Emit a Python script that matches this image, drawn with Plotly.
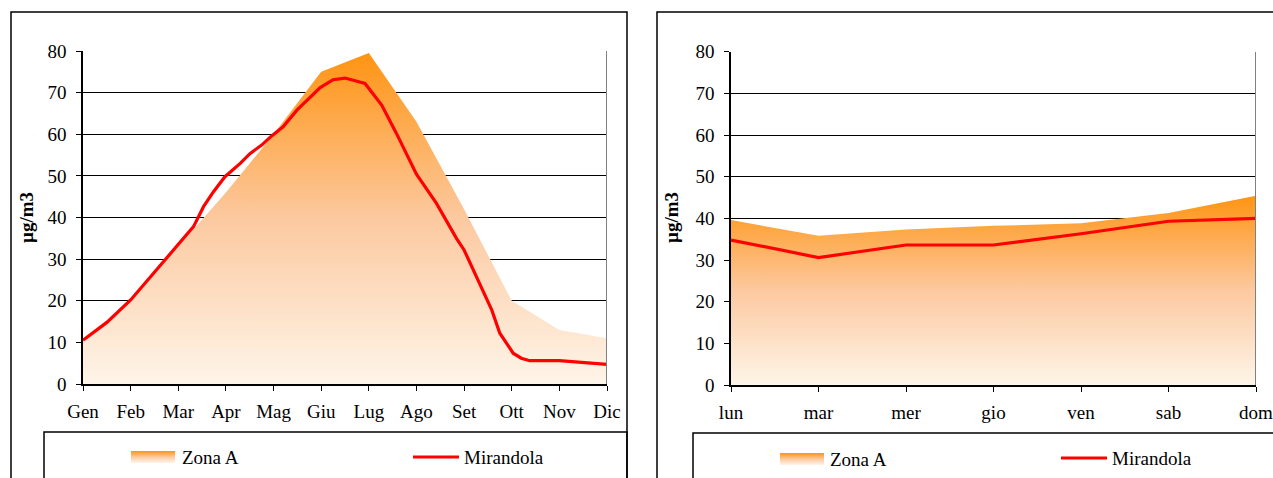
import plotly.graph_objects as go
from plotly.colors import sample_colorscale

# dati mensili
mesi = ["Gen", "Feb", "Mar", "Apr", "Mag", "Giu", "Lug", "Ago", "Set", "Ott", "Nov", "Dic"]
zona_a_mesi = [10, 20, 33, 46, 60, 75, 79.5, 63, 42, 20, 13, 11]
mirandola_mesi_x = [0, 0.5, 1, 1.5, 2.07, 2.32, 2.53, 2.74, 2.98, 3.3, 3.51, 3.75, 3.96,
                    4.2, 4.49, 4.77, 4.98, 5.25, 5.5, 5.92, 6.27, 6.58, 7.0, 7.42, 7.84,
                    8.0, 8.28, 8.58, 8.75, 8.89, 9.03, 9.2, 9.38, 10, 11]
mirandola_mesi = [10.5, 14.8, 20.2, 26.9, 34.6, 37.8, 42.6, 46.2, 49.8, 53.0, 55.4, 57.4, 59.6,
                  61.8, 65.8, 69.0, 71.2, 73.1, 73.5, 72.2, 67.0, 60.2, 50.4, 43.4, 35.0,
                  32.2, 25.4, 17.8, 12.2, 9.8, 7.4, 6.2, 5.6, 5.6, 4.7]

# dati settimanali
giorni = ["lun", "mar", "mer", "gio", "ven", "sab", "dom"]
zona_a_sett = [39.6, 35.8, 37.3, 38.2, 38.8, 41.3, 45.4]
mirandola_sett = [34.8, 30.6, 33.6, 33.6, 36.3, 39.3, 40.0]

W, H = 1273, 478
FONT = "Liberation Serif"
SCALA = [[0, "#FEF5E9"], [0.5, "#FCC9A0"], [1, "#FF9412"]]


def xp(px):
    return px / W


def yp(py):
    return 1 - py / H


fig = go.Figure()

# Zona A mensile (area con gradiente)
fig.add_trace(go.Scatter(
    x=list(range(len(mesi))), y=zona_a_mesi, mode="lines", fill="tozeroy",
    line=dict(width=0, color="#FF9412"),
    fillgradient=dict(type="vertical", colorscale=SCALA, start=0, stop=max(zona_a_mesi)),
    xaxis="x", yaxis="y", showlegend=False, hoverinfo="skip"))
fig.add_trace(go.Scatter(
    x=mirandola_mesi_x, y=mirandola_mesi, mode="lines",
    line=dict(width=3.2, color="#FF0000"), xaxis="x", yaxis="y", showlegend=False))

# Zona A settimanale
fig.add_trace(go.Scatter(
    x=list(range(len(giorni))), y=zona_a_sett, mode="lines", fill="tozeroy",
    line=dict(width=0, color="#FF9412"),
    fillgradient=dict(type="vertical", colorscale=SCALA, start=0, stop=max(zona_a_sett)),
    xaxis="x2", yaxis="y2", showlegend=False, hoverinfo="skip"))
fig.add_trace(go.Scatter(
    x=list(range(len(giorni))), y=mirandola_sett, mode="lines",
    line=dict(width=3.2, color="#FF0000"), xaxis="x2", yaxis="y2", showlegend=False))

tickfont = dict(family=FONT, size=19, color="black")
asse_y = dict(range=[0, 80], dtick=10, showgrid=True, gridcolor="black", gridwidth=1,
              showline=True, linecolor="black", linewidth=1.5, zeroline=False,
              ticks="outside", ticklen=5, tickcolor="black", tickfont=tickfont,
              ticklabelstandoff=6, automargin=False, fixedrange=True)
asse_x = dict(showgrid=False, showline=True, linecolor="black", linewidth=1.5,
              zeroline=False, ticks="outside", ticklen=5, tickcolor="black",
              tickfont=tickfont, ticklabelstandoff=4, ticklabeloverflow="allow",
              automargin=False, fixedrange=True)

fig.update_layout(
    width=W, height=H, margin=dict(l=0, r=0, t=0, b=0, autoexpand=False),
    paper_bgcolor="white", plot_bgcolor="white",
    xaxis=dict(asse_x, domain=[xp(83), xp(607)], range=[0, 11],
               tickvals=list(range(12)), ticktext=mesi, anchor="y"),
    yaxis=dict(asse_y, domain=[yp(384), yp(51)], anchor="x"),
    xaxis2=dict(asse_x, domain=[xp(731), xp(1256)], range=[0, 6],
                tickvals=list(range(7)), ticktext=giorni, anchor="y2"),
    yaxis2=dict(asse_y, domain=[yp(385), yp(51.7)], anchor="x2"),
)

shapes = []
# bordo destro grigio dell'area del grafico
shapes.append(dict(type="line", xref="x", yref="y", x0=11, x1=11, y0=0, y1=80,
                   line=dict(color="#808080", width=2)))
shapes.append(dict(type="line", xref="x2", yref="y2", x0=6, x1=6, y0=0, y1=80,
                   line=dict(color="#808080", width=2)))
# cornici esterne
shapes.append(dict(type="rect", xref="paper", yref="paper", x0=xp(11), x1=xp(627),
                   y0=yp(500), y1=yp(12), line=dict(color="black", width=1.5)))
shapes.append(dict(type="rect", xref="paper", yref="paper", x0=xp(657), x1=xp(1290),
                   y0=yp(500), y1=yp(12), line=dict(color="black", width=1.5)))
# riquadri legenda
shapes.append(dict(type="rect", xref="paper", yref="paper", x0=xp(44), x1=xp(627),
                   y0=yp(500), y1=yp(432), line=dict(color="black", width=1.5)))
shapes.append(dict(type="rect", xref="paper", yref="paper", x0=xp(693), x1=xp(1290),
                   y0=yp(500), y1=yp(433), line=dict(color="black", width=1.5)))

annotations = []
# legende
for sw_x, sw_y, txt_x, ln_x, ln_y, txt2_x in [(131, 451, 180, 413, 457, 462),
                                               (780, 453, 828, 1061, 458, 1110)]:
    n = 12
    cols = sample_colorscale(SCALA, [1 - (i + 0.5) / n for i in range(n)])
    for i, c in enumerate(cols):
        shapes.append(dict(type="rect", xref="paper", yref="paper",
                           x0=xp(sw_x), x1=xp(sw_x + 44),
                           y0=yp(sw_y + (i + 1) * 1.0), y1=yp(sw_y + i * 1.0),
                           fillcolor=c, line=dict(width=0)))
    shapes.append(dict(type="line", xref="paper", yref="paper",
                       x0=xp(ln_x), x1=xp(ln_x + 46), y0=yp(ln_y), y1=yp(ln_y),
                       line=dict(color="#FF0000", width=3.2)))
    annotations.append(dict(text="Zona A", xref="paper", yref="paper", x=xp(txt_x),
                            y=yp(sw_y + 6), xanchor="left", yanchor="middle",
                            showarrow=False, font=tickfont))
    annotations.append(dict(text="Mirandola", xref="paper", yref="paper", x=xp(txt2_x),
                            y=yp(ln_y), xanchor="left", yanchor="middle",
                            showarrow=False, font=tickfont))

# titoli asse y
for tx in (26, 671):
    annotations.append(dict(text="<b>µg/m3</b>", xref="paper", yref="paper", x=xp(tx),
                            y=yp(218), textangle=-90, showarrow=False,
                            xanchor="center", yanchor="middle",
                            font=dict(family=FONT, size=19, color="black")))

fig.update_layout(shapes=shapes, annotations=annotations)

# niente margine del body, cosi' la figura parte da (0, 0)
fig.write_html("out.html", config={"displayModeBar": False},
               post_script="document.body.style.margin = '0';")
